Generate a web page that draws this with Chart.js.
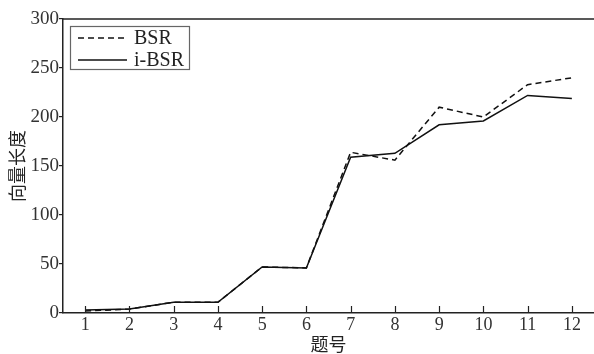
<!DOCTYPE html>
<html><head><meta charset="utf-8">
<script src="https://cdn.jsdelivr.net/npm/chart.js@4"></script>
<style>html,body{margin:0;padding:0;background:#fff}#wrap{width:594px;height:354px}</style>
</head><body><div id="wrap"><canvas id="c"></canvas></div>
<script>
const categories = ['1','2','3','4','5','6','7','8','9','10','11','12'];
const bsrValues  = [2, 4, 11, 11, 47, 46, 164, 156, 210, 200, 233, 240];
const ibsrValues = [3, 4, 11, 11, 47, 46, 159, 163, 192, 196, 222, 219];
const yTicks = [0, 50, 100, 150, 200, 250, 300];
const seriesNames = ['BSR', 'i-BSR'];

const serif = "'Liberation Serif','DejaVu Serif',serif";
const cjk = "'Noto Sans CJK SC','Noto Sans CJK JP',sans-serif";

const framePlugin = {
  id: 'frame',
  afterDraw(chart) {
    const {ctx, chartArea: a, scales} = chart;
    ctx.save();
    ctx.strokeStyle = '#222'; ctx.lineWidth = 1.5;
    ctx.beginPath(); ctx.moveTo(a.left, a.top); ctx.lineTo(a.right + 2, a.top); ctx.stroke();
    ctx.lineWidth = 1.2;
    const xs = scales.x;
    xs.ticks.forEach((t, i) => {
      const px = Math.round(xs.getPixelForTick(i)) + 0.5;
      ctx.beginPath(); ctx.moveTo(px, a.bottom); ctx.lineTo(px, a.bottom - 7); ctx.stroke();
    });
    const lx = 70.5, ly = 26.5, lw = 119, lh = 43;
    ctx.strokeStyle = '#666'; ctx.lineWidth = 1.2;
    ctx.fillStyle = '#fff';
    ctx.fillRect(lx, ly, lw, lh);
    ctx.strokeRect(lx, ly, lw, lh);
    chart.data.datasets.forEach((ds, i) => {
      const y = 38 + i * 22;
      ctx.strokeStyle = '#111'; ctx.lineWidth = 1.5;
      ctx.setLineDash(ds.borderDash || []);
      ctx.beginPath(); ctx.moveTo(78, y); ctx.lineTo(127, y); ctx.stroke();
      ctx.setLineDash([]);
      ctx.fillStyle = '#222';
      ctx.font = '20px ' + serif;
      ctx.textBaseline = 'middle';
      ctx.fillText(ds.label, 134, y + 1);
    });
    ctx.restore();
  }
};

new Chart(document.getElementById('c'), {
  type: 'line',
  data: {
    labels: categories,
    datasets: [
      { label: seriesNames[0], data: bsrValues, borderColor: '#111', borderWidth: 1.5, borderDash: [6, 4], pointRadius: 0, tension: 0, fill: false },
      { label: seriesNames[1], data: ibsrValues, borderColor: '#111', borderWidth: 1.5, pointRadius: 0, tension: 0, fill: false }
    ]
  },
  options: {
    responsive: true, maintainAspectRatio: false, animation: false,
    layout: { padding: { top: 19, right: 0, left: 0, bottom: 0 } },
    plugins: { legend: { display: false }, tooltip: { enabled: false } },
    scales: {
      x: {
        type: 'category', offset: true,
        grid: { display: false, offset: true },
        border: { display: true, color: '#222', width: 1.5 },
        ticks: { color: '#333', font: { family: serif, size: 18 }, padding: -7, maxRotation: 0, autoSkip: false },
        title: { display: true, text: '题号', color: '#222', font: { family: cjk, size: 18 }, padding: { top: 0, bottom: -1 } },
        afterFit(s) { s.height = 41; }
      },
      y: {
        min: 0, max: 300,
        afterBuildTicks(s) { s.ticks = yTicks.map(v => ({ value: v })); },
        grid: { drawOnChartArea: false, drawTicks: true, tickLength: 4, color: '#222', lineWidth: 1.2 },
        border: { display: true, color: '#222', width: 1.5 },
        ticks: { color: '#333', font: { family: serif, size: 19 }, padding: 0 },
        title: { display: true, text: '向量长度', color: '#222', font: { family: cjk, size: 18 }, padding: { top: 6, bottom: 0 } },
        afterFit(s) { s.width = 63; }
      }
    }
  },
  plugins: [framePlugin]
});
</script></body></html>
